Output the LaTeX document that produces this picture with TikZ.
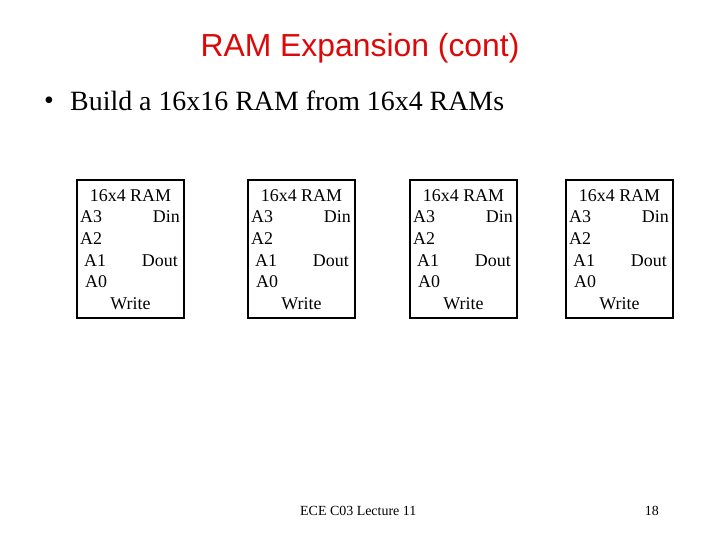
\documentclass[tikz,border=0pt]{standalone}
\usepackage{fontspec}
\setmainfont{Liberation Serif}
\newfontfamily\headfont{Liberation Sans}
\definecolor{titlered}{RGB}{221,8,8}
\newcommand{\ramchip}[2]{
    \begin{scope}[shift={(#1)}]
        \node[draw,line width=1.6bp,minimum width=107bp,minimum height=138bp,inner sep=0] (#2) at (0,0) {};
        \node[pin] (#2t) at (0,-53) {16x4 RAM};
        \node[pin,anchor=west] (#2a3) at (-50.5,-32) {A3};
        \node[pin,anchor=west] (#2a2) at (-50.5,-10) {A2};
        \node[pin,anchor=west] (#2a1) at (-46.5,12) {A1};
        \node[pin,anchor=west] (#2a0) at (-45.5,33) {A0};
        \node[pin,anchor=east] (#2din) at (49.5,-32) {Din};
        \node[pin,anchor=east] (#2dout) at (47.5,12) {Dout};
        \node[pin] (#2w) at (0,55) {Write};
    \end{scope}
}

\begin{document}
\begin{tikzpicture}[x=1bp,y=-1bp,
    pin/.style={inner sep=0,font=\fontsize{18}{21}\selectfont}]
        \useasboundingbox (0,0) rectangle (720,540);

        \node[text=titlered,font=\headfont\fontsize{32}{38}\selectfont] (title) at (360,48) {RAM Expansion (cont)};
        \node[anchor=west,inner sep=0,font=\fontsize{28}{33}\selectfont] (dot) at (44,103) {•};
        \node[anchor=west,inner sep=0,font=\fontsize{28}{33}\selectfont] (task) at (70,101) {Build a 16x16 RAM from 16x4 RAMs};

        \ramchip{130.5,249}{ramA}
        \ramchip{301.5,249}{ramB}
        \ramchip{463.5,249}{ramC}
        \ramchip{619.5,249}{ramD}

        \node[anchor=west,inner sep=0,font=\fontsize{14}{17}\selectfont] (foot) at (300,511) {ECE C03 Lecture 11};
        \node[anchor=east,inner sep=0,font=\fontsize{14}{17}\selectfont] (page) at (659,511) {18};
    \end{tikzpicture}
\end{document}
